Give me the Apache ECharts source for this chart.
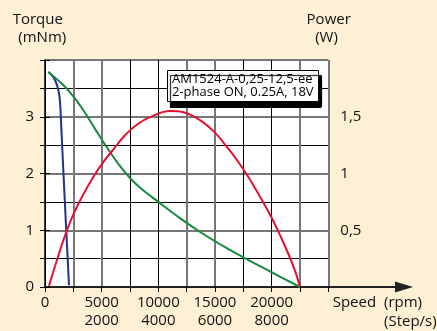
<!DOCTYPE html>
<html>
<head>
<meta charset="utf-8">
<script src="https://cdn.jsdelivr.net/npm/echarts@6/dist/echarts.min.js"></script>
<style>
html, body { margin: 0; padding: 0; background: #fdf0d5; }
#chart { width: 437px; height: 331px; }
</style>
</head>
<body>
<div id="chart"></div>
<script>
// speed in rpm, torque in mNm, power in W
var blueSpeed = [291, 600, 900, 1100, 1250, 1340, 1400, 1630, 1875, 2118];
var blueTorque = [3.79, 3.73, 3.64, 3.53, 3.40, 3.22, 2.98, 2.00, 1.00, 0.03];
var greenSpeed = [291, 1500, 2500, 3500, 4500, 5500, 6500, 7500, 8500, 10000, 12000, 14000, 16000, 18000, 20000, 22500];
var greenTorque = [3.79, 3.58, 3.36, 3.08, 2.76, 2.45, 2.16, 1.92, 1.73, 1.50, 1.20, 0.93, 0.69, 0.47, 0.26, 0.0];
var powerSpeed = [353, 1000, 1826, 2500, 3400, 4262, 5144, 6176, 7000, 8091, 9556, 11029, 12203, 13676, 15000, 16000, 17000, 18000, 19000, 20000, 21000, 22000, 22500];
var powerW = [0.01, 0.22, 0.47, 0.64, 0.82, 0.97, 1.10, 1.23, 1.33, 1.43, 1.51, 1.55, 1.54, 1.47, 1.36, 1.24, 1.11, 0.96, 0.79, 0.61, 0.40, 0.16, 0.0];

var torqueTicks = [0, 1, 2, 3];
var powerTicks = [0.5, 1, 1.5];
var rpmTicks = [0, 5000, 10000, 15000, 20000];
var stepTicks = ['', '2000', '4000', '6000', '8000'];

var FONT = '"Open Sans", "DejaVu Sans", sans-serif';

function zip(a, b) {
    var out = [];
    for (var i = 0; i < a.length; ++i) {
        out.push([a[i], b[i]]);
    }
    return out;
}

var chart = echarts.init(document.getElementById('chart'));
var option = {
    animation: false,
    title: {
        text: 'AM1524-A-0,25-12,5-ee\n2-phase ON, 0.25A, 18V',
        left: 167,
        top: 70,
        z: 10,
        backgroundColor: '#fff',
        borderColor: '#000',
        borderWidth: 1,
        padding: [3, 5],
        shadowColor: '#000',
        shadowBlur: 1,
        shadowOffsetX: 3,
        shadowOffsetY: 5,
        textStyle: { fontSize: 13, fontWeight: 'normal', color: '#000', fontFamily: FONT }
    },
    grid: [
        { left: 45, right: 108.7, top: 60, bottom: 44, show: true, backgroundColor: '#fff', borderWidth: 0 },
        { left: 45, right: 33, top: 60, bottom: 44, show: false },
        // black block behind the info box = its drop shadow
        { left: 170, top: 75, width: 151, height: 33, show: true, z: 8, backgroundColor: '#000', borderWidth: 0 }
    ],
    xAxis: [
        {
            gridIndex: 0, type: 'value', min: 0, max: 25000, interval: 2500,
            axisLine: { show: false },
            axisTick: { show: true, length: 5, lineStyle: { color: '#000' } },
            axisLabel: {
                fontSize: 15, lineHeight: 18, color: '#111', margin: 7, fontFamily: FONT,
                formatter: function (v) {
                    var i = rpmTicks.indexOf(v);
                    if (i < 0) return '';
                    return stepTicks[i] ? v + '\n' + stepTicks[i] : '' + v;
                }
            },
            splitLine: { show: true, lineStyle: { color: ['#000', 'transparent', 'transparent', '#000'], width: 1 } }
        },
        {
            gridIndex: 0, type: 'value', min: 0, max: 25000, interval: 2500,
            axisLine: { show: false }, axisTick: { show: false }, axisLabel: { show: false },
            splitLine: { show: true, lineStyle: { color: ['transparent', '#777', '#777', 'transparent'], width: 2 } }
        },
        {
            gridIndex: 1, type: 'value', min: 0, max: 1,
            axisLine: { show: true, symbol: ['none', 'triangle'], symbolSize: [11, 18], lineStyle: { color: '#222', width: 2 } },
            axisTick: { show: false }, axisLabel: { show: false }, splitLine: { show: false }
        },
        { gridIndex: 2, type: 'value', min: 0, max: 1, show: false }
    ],
    yAxis: [
        {
            gridIndex: 0, type: 'value', min: 0, max: 4, interval: 0.5,
            axisLine: { show: true, lineStyle: { color: '#000', width: 1.5 } },
            axisTick: { show: true, length: 5, lineStyle: { color: '#000' } },
            axisLabel: {
                fontSize: 15, color: '#111', margin: 11, fontFamily: FONT,
                formatter: function (v) { return torqueTicks.indexOf(v) >= 0 ? '' + v : ''; }
            },
            splitLine: { show: true, lineStyle: { color: ['transparent', '#000'], width: 1 } }
        },
        {
            gridIndex: 0, type: 'value', position: 'right', min: 0, max: 2, interval: 0.25,
            axisLine: { show: false },
            axisTick: { show: true, length: 5, lineStyle: { color: '#000' } },
            axisLabel: {
                fontSize: 15, color: '#111', margin: 12, fontFamily: FONT,
                formatter: function (v) { return powerTicks.indexOf(v) >= 0 ? ('' + v).replace('.', ',') : ''; }
            },
            splitLine: { show: true, lineStyle: { color: ['#777', 'transparent'], width: 2 } }
        },
        { gridIndex: 1, type: 'value', min: 0, max: 1, show: false },
        { gridIndex: 2, type: 'value', min: 0, max: 1, show: false }
    ],
    graphic: [
        { type: 'text', x: 12.7, y: 20, style: { text: 'Torque', font: '15px ' + FONT, fill: '#111', align: 'left', verticalAlign: 'middle' } },
        { type: 'text', x: 18.3, y: 38, style: { text: '(mNm)', font: '15px ' + FONT, fill: '#111', align: 'left', verticalAlign: 'middle' } },
        { type: 'text', x: 328.7, y: 20, style: { text: 'Power', font: '15px ' + FONT, fill: '#111', align: 'center', verticalAlign: 'middle' } },
        { type: 'text', x: 326.5, y: 38, style: { text: '(W)', font: '15px ' + FONT, fill: '#111', align: 'center', verticalAlign: 'middle' } },
        { type: 'text', x: 332.7, y: 303, style: { text: 'Speed', font: '15px ' + FONT, fill: '#111', align: 'left', verticalAlign: 'middle' } },
        { type: 'text', x: 384, y: 303, style: { text: '(rpm)', font: '15px ' + FONT, fill: '#111', align: 'left', verticalAlign: 'middle' } },
        { type: 'text', x: 384, y: 322, style: { text: '(Step/s)', font: '15px ' + FONT, fill: '#111', align: 'left', verticalAlign: 'middle' } }
    ],
    series: [
        {
            name: 'current', type: 'line', xAxisIndex: 0, yAxisIndex: 0,
            data: zip(blueSpeed, blueTorque), showSymbol: false, smooth: 0.4,
            lineStyle: { color: '#1f3391', width: 2 }
        },
        {
            name: 'torque', type: 'line', xAxisIndex: 0, yAxisIndex: 0,
            data: zip(greenSpeed, greenTorque), showSymbol: false, smooth: 0.4,
            lineStyle: { color: '#178a3d', width: 2 }
        },
        {
            name: 'power', type: 'line', xAxisIndex: 0, yAxisIndex: 1,
            data: zip(powerSpeed, powerW), showSymbol: false, smooth: 0.4,
            lineStyle: { color: '#e5112e', width: 2 }
        }
    ]
};
chart.setOption(option);
</script>
</body>
</html>
